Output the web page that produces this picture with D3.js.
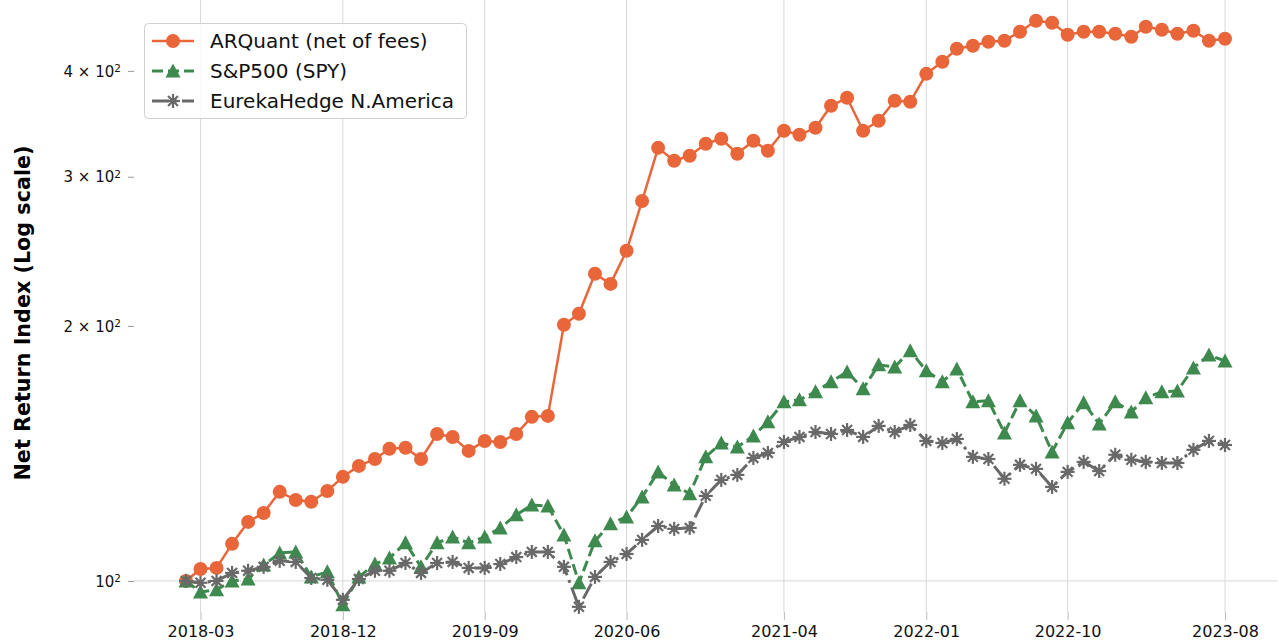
<!DOCTYPE html>
<html>
<head>
<meta charset="utf-8">
<script src="https://cdn.jsdelivr.net/npm/d3@7"></script>
<style>
  body { margin: 0; background: white; }
  svg { font-family: "DejaVu Sans", sans-serif; }
</style>
</head>
<body>
<div id="app"></div>
<script>
const WIDTH = 1279
const HEIGHT = 641

// monthly observations, 2018-02 .. 2023-08
const months = d3.timeMonth.range(new Date(2018, 1, 1), new Date(2023, 7, 2))

const arquant = [100, 103.3, 103.6, 110.6, 117.4, 120.3, 127.4, 124.6, 124.0, 127.7,
  132.7, 136.7, 139.3, 143.2, 143.6, 139.3, 149.1, 147.9, 142.4, 146.3,
  145.9, 149.1, 156.2, 156.6, 200.6, 206.7, 230.5, 224.2, 245.3, 280.9,
  324.5, 313.3, 317.6, 328.1, 332.6, 319.3, 330.8, 321.9, 339.9, 336.2,
  342.7, 363.8, 371.8, 339.9, 349.3, 368.8, 367.8, 396.8, 410.0, 424.8,
  428.3, 433.0, 434.2, 444.9, 458.4, 455.9, 441.3, 444.9, 444.9, 442.5,
  438.9, 451.0, 447.3, 442.5, 446.1, 434.2, 436.5]

const spy = [100, 97.05, 97.6, 100, 100.5, 104.4, 107.9, 108.2, 101.1, 102.5,
  93.7, 101.1, 104.7, 106.4, 110.9, 103.9, 110.9, 112.7, 110.9, 112.7,
  115.5, 119.7, 122.9, 122.6, 113.3, 99.5, 111.5, 116.8, 119.0, 125.6,
  134.5, 129.8, 126.7, 140.1, 145.5, 143.9, 148.3, 154.1, 162.7, 163.6,
  167.2, 171.8, 176.5, 168.6, 179.9, 178.9, 186.9, 177.0, 171.8, 177.9,
  162.7, 163.2, 149.5, 163.2, 156.6, 142.0, 153.7, 162.3, 153.2, 162.7,
  158.3, 164.5, 167.2, 167.6, 178.4, 184.8, 181.8]

const eureka = [100, 99.5, 100, 102.2, 102.8, 103.9, 105.6, 105.3, 100.8, 100.3,
  95.0, 100.5, 102.8, 102.8, 105.0, 102.2, 105.0, 105.3, 103.6, 103.6,
  104.7, 106.7, 108.2, 108.2, 103.9, 93.2, 101.1, 105.3, 107.6, 111.8,
  116.1, 115.2, 115.5, 126.0, 131.6, 133.4, 139.7, 141.6, 145.9, 147.9,
  149.9, 149.1, 150.7, 147.9, 152.4, 149.9, 152.8, 146.3, 145.5, 147.1,
  140.1, 139.3, 132.0, 137.1, 135.6, 129.1, 134.5, 138.2, 134.8, 140.9,
  139.0, 138.2, 137.8, 137.8, 142.8, 146.3, 144.7]

const xTicks = ['2018-03', '2018-12', '2019-09', '2020-06', '2021-04', '2022-01', '2022-10', '2023-08']
const yTicks = [100, 200, 300, 400]

const series = [
  { name: 'ARQuant (net of fees)', values: arquant, color: '#e8663a', width: 2.5, dash: null, marker: 'circle' },
  { name: 'S&P500 (SPY)', values: spy, color: '#3e8a4e', width: 3, dash: '11,5', marker: 'triangle' },
  { name: 'EurekaHedge N.America', values: eureka, color: '#696969', width: 3, dash: '17,5,3,5', marker: 'star' }
]

const parseMonth = d3.timeParse('%Y-%m')

const x = d3.scaleTime()
  .domain([months[0], months[months.length - 1]])
  .range([186, 1225])

const y = d3.scaleLog()
  .domain([91.9, 485])
  .range([612, 0])

const svg = d3.select('#app').append('svg')
  .attr('width', WIDTH)
  .attr('height', HEIGHT)

// grid
svg.append('g')
  .selectAll('line')
  .data(xTicks)
  .enter()
.append('line')
  .attr('x1', d => x(parseMonth(d)))
  .attr('x2', d => x(parseMonth(d)))
  .attr('y1', 0)
  .attr('y2', 612)
  .attr('stroke', '#d8d8d8')
  .attr('stroke-width', 1)

svg.append('line')
  .attr('x1', 134)
  .attr('x2', 1277)
  .attr('y1', y(100))
  .attr('y2', y(100))
  .attr('stroke', '#d8d8d8')
  .attr('stroke-width', 1)

// x axis
const xAxis = svg.append('g')
  .attr('transform', 'translate(0, 612)')
  .call(d3.axisBottom(x)
    .tickValues(xTicks.map(parseMonth))
    .tickFormat(d3.timeFormat('%Y-%m'))
    .tickSize(8)
    .tickPadding(6))
xAxis.select('.domain').remove()
xAxis.selectAll('.tick line').attr('stroke', '#bbb')
xAxis.selectAll('.tick text')
  .attr('fill', '#111')
  .style('font-size', '16px')
  .style('font-family', '"DejaVu Sans", sans-serif')

// y axis
const yAxis = svg.append('g')
  .attr('transform', 'translate(134, 0)')
  .call(d3.axisLeft(y).tickValues(yTicks).tickSize(6).tickPadding(6).tickFormat(''))
yAxis.select('.domain').remove()
yAxis.selectAll('.tick line').attr('stroke', '#999')
yAxis.selectAll('.tick').each(function(d) {
  const t = d3.select(this).append('text')
    .attr('x', -13)
    .attr('dy', '0.35em')
    .attr('text-anchor', 'end')
    .attr('fill', '#111')
    .style('font-size', '15px')
    .style('font-family', '"DejaVu Sans", sans-serif')
  const m = d / 100
  t.append('tspan').text(m === 1 ? '10' : `${m} \u00d7 10`)
  t.append('tspan').attr('dy', '-0.45em').style('font-size', '10.5px').text('2')
})

svg.append('text')
  .attr('transform', 'translate(30, 313) rotate(-90)')
  .attr('text-anchor', 'middle')
  .style('font-size', '20.7px')
  .style('font-weight', 'bold')
  .attr('fill', '#000')
  .text('Net Return Index (Log scale)')

// markers
function drawMarker(g, type, color) {
  if (type === 'circle') {
    g.append('circle').attr('r', 7).attr('fill', color)
  } else if (type === 'triangle') {
    g.append('path').attr('d', 'M0,-7.5L7.5,6.5L-7.5,6.5Z').attr('fill', color)
  } else {
    const arms = d3.range(4).map(i => i * Math.PI / 4)
    g.selectAll('line.arm')
      .data(arms)
      .enter()
    .append('line')
      .attr('class', 'arm')
      .attr('x1', a => -7 * Math.cos(a))
      .attr('y1', a => -7 * Math.sin(a))
      .attr('x2', a => 7 * Math.cos(a))
      .attr('y2', a => 7 * Math.sin(a))
      .attr('stroke', color)
      .attr('stroke-width', 2.2)
    g.append('circle').attr('r', 3).attr('fill', color)
  }
}

const line = d3.line()
  .x((d, i) => x(months[i]))
  .y(d => y(d))

const plot = svg.append('g')

series.forEach(s => {
  const g = plot.append('g')
  g.append('path')
    .datum(s.values)
    .attr('d', line)
    .attr('fill', 'none')
    .attr('stroke', s.color)
    .attr('stroke-width', s.width)
    .attr('stroke-dasharray', s.dash)
    .attr('stroke-linejoin', 'round')

  g.selectAll('g.pt')
    .data(s.values)
    .enter()
  .append('g')
    .attr('class', 'pt')
    .attr('transform', (d, i) => `translate(${x(months[i])}, ${y(d)})`)
    .each(function() { drawMarker(d3.select(this), s.marker, s.color) })
})

// legend
const legend = svg.append('g')
legend.append('rect')
  .attr('x', 144.5)
  .attr('y', 23.5)
  .attr('width', 322)
  .attr('height', 95)
  .attr('rx', 4)
  .attr('fill', 'white')
  .attr('fill-opacity', 0.85)
  .attr('stroke', '#d0d0d0')

const item = legend.selectAll('g.item')
  .data(series)
  .enter()
.append('g')
  .attr('class', 'item')
  .attr('transform', (d, i) => `translate(0, ${41 + i * 30})`)

item.append('line')
  .attr('x1', 152)
  .attr('x2', 194)
  .attr('stroke', d => d.color)
  .attr('stroke-width', d => d.width)
  .attr('stroke-dasharray', d => d.dash)

item.append('g')
  .attr('transform', 'translate(173, 0)')
  .each(function(d) { drawMarker(d3.select(this), d.marker, d.color) })

item.append('text')
  .attr('x', 210)
  .attr('dy', '0.35em')
  .style('font-size', '20px')
  .attr('fill', '#111')
  .text(d => d.name)
</script>
</body>
</html>
